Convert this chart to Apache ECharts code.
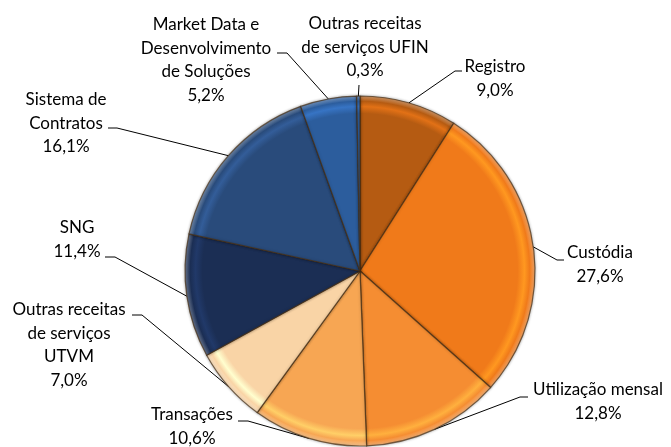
<!DOCTYPE html>
<html>
<head>
<meta charset="utf-8">
<script src="https://cdn.jsdelivr.net/npm/echarts@6/dist/echarts.min.js"></script>
<style>
  html, body { margin: 0; padding: 0; background: #fff; }
  #chart { width: 671px; height: 447px; }
</style>
</head>
<body>
<div id="chart"></div>
<script>
// categorias (sentido horario a partir do topo)
var names = [
    'Registro',
    'Custódia',
    'Utilização mensal',
    'Transações',
    'Outras receitas\nde serviços\nUTVM',
    'SNG',
    'Sistema de\nContratos',
    'Market Data e\nDesenvolvimento\nde Soluções',
    'Outras receitas\nde serviços UFIN'
];
var values = [9.0, 27.6, 12.8, 10.6, 7.0, 11.4, 16.1, 5.2, 0.3];
var colors = ['#b55b12', '#f07a1a', '#f58d32', '#f7a653', '#f9d4a6',
              '#1b2e54', '#294b7b', '#2c5d9d', '#2c5d9d'];

// posicao dos rotulos: [x centro, y topo, dobra, fim da linha]
var labelPos = [
    [495, 55, [455, 71], [462, 71]],
    [600, 241, [557, 260], [564, 260]],
    [598, 378, [520, 397], [528, 397]],
    [192, 403, [248, 421], [238, 421]],
    [69, 298, [142, 315], [132, 315]],
    [77, 216, [115, 257], [105, 257]],
    [66, 88, [117, 128], [108, 128]],
    [206, 13, [287, 53], [277, 53]],
    [365, 12, [359, 85], [359, 85]]
];

var cx = 360, cy = 271, rad = 175;

// efeito de chanfro na borda
function bevel(c) {
    var light = echarts.color.lift(c, -0.25);
    var dark = echarts.color.lift(c, 0.35);
    return {
        type: 'radial', x: cx, y: cy, r: rad, global: true,
        colorStops: [
            { offset: 0, color: c },
            { offset: 0.9, color: c },
            { offset: 0.94, color: light },
            { offset: 0.97, color: c },
            { offset: 1, color: dark }
        ]
    };
}

var myChart = echarts.init(document.getElementById('chart'));

var data = [];
for (var i = 0; i < names.length; i++) {
    data.push({
        name: names[i],
        value: values[i],
        itemStyle: { color: bevel(colors[i]) }
    });
}

var option = {
    animation: false,
    series: [
        {
            type: 'pie',
            center: [cx, cy],
            radius: rad,
            startAngle: 90,
            clockwise: true,
            avoidLabelOverlap: false,
            data: data,
            itemStyle: {
                borderColor: 'rgba(70,45,20,0.7)',
                borderWidth: 1.2,
                shadowBlur: 3,
                shadowColor: 'rgba(0,0,0,0.35)'
            },
            label: {
                show: true,
                position: 'outside',
                fontFamily: 'Lato',
                fontSize: 17,
                lineHeight: 23.5,
                color: '#000',
                align: 'center',
                formatter: function (p) {
                    return p.name + '\n' + p.value.toFixed(1).replace('.', ',') + '%';
                }
            },
            labelLine: {
                show: true,
                length: 20,
                length2: 10,
                lineStyle: { color: '#000', width: 1 }
            },
            labelLayout: function (params) {
                var lp = labelPos[params.dataIndex];
                var start = params.labelLinePoints ? params.labelLinePoints[0] : lp[2];
                return {
                    x: lp[0],
                    y: lp[1],
                    align: 'center',
                    verticalAlign: 'top',
                    labelLinePoints: [start, lp[2], lp[3]]
                };
            }
        }
    ]
};
myChart.setOption(option);
</script>
</body>
</html>
